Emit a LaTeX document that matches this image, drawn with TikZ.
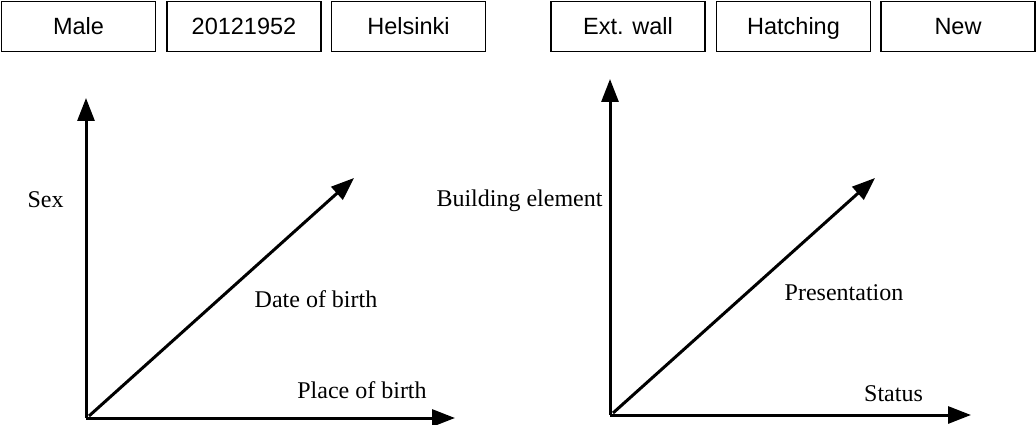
\documentclass[tikz,border=0pt]{standalone}
\usepackage{fontspec}
\setmainfont{Liberation Serif}
\newfontfamily\boxfont{Liberation Sans}
\usetikzlibrary{arrows.meta}
\begin{document}
\begin{tikzpicture}[x=1pt,y=-1pt,
  valbox/.style={draw, line width=1.5pt, minimum width=154pt, minimum height=50pt, inner sep=0pt, text height=16.5pt, text depth=0pt, font=\boxfont\fontsize{23.5}{27}\selectfont},
  axis/.style={line width=3pt, -{Triangle[length=23pt,width=17pt]}},
  lbl/.style={font=\fontsize{24}{28}\selectfont, inner sep=0pt, anchor=base}]
\useasboundingbox (0,0) rectangle (1036,425);
% value boxes
\node[valbox] (b1) at (78.5,26.5) {Male};
\node[valbox] (b2) at (244,26.5) {20121952};
\node[valbox] (b3) at (408.5,26.5) {Helsinki};
\node[valbox] (b4) at (628,26.5) {Ext. wall};
\node[valbox] (b5) at (793.5,26.5) {Hatching};
\node[valbox] (b6) at (958,26.5) {New};
% left axes
\coordinate (o1) at (86,418);
\coordinate (o1d) at (89,416);
\coordinate (y1) at (86,98);
\coordinate (x1) at (455,418);
\coordinate (z1) at (354,178);
\draw[axis] (o1) -- (y1);
\draw[axis] (o1) -- (x1);
\draw[axis] (o1d) -- (z1);
\node[lbl] (sex) at (45.5,207) {Sex};
\node[lbl] (dob) at (316,307) {Date of birth};
\node[lbl] (pob) at (362,398) {Place of birth};
% right axes
\coordinate (o2) at (610,415);
\coordinate (o2d) at (613,413);
\coordinate (y2) at (610,79);
\coordinate (x2) at (971,415);
\coordinate (z2) at (875,178);
\draw[axis] (o2) -- (y2);
\draw[axis] (o2) -- (x2);
\draw[axis] (o2d) -- (z2);
\node[lbl] (be) at (519.5,206) {Building element};
\node[lbl] (pr) at (844,300) {Presentation};
\node[lbl] (st) at (893.5,401) {Status};
\end{tikzpicture}
\end{document}
